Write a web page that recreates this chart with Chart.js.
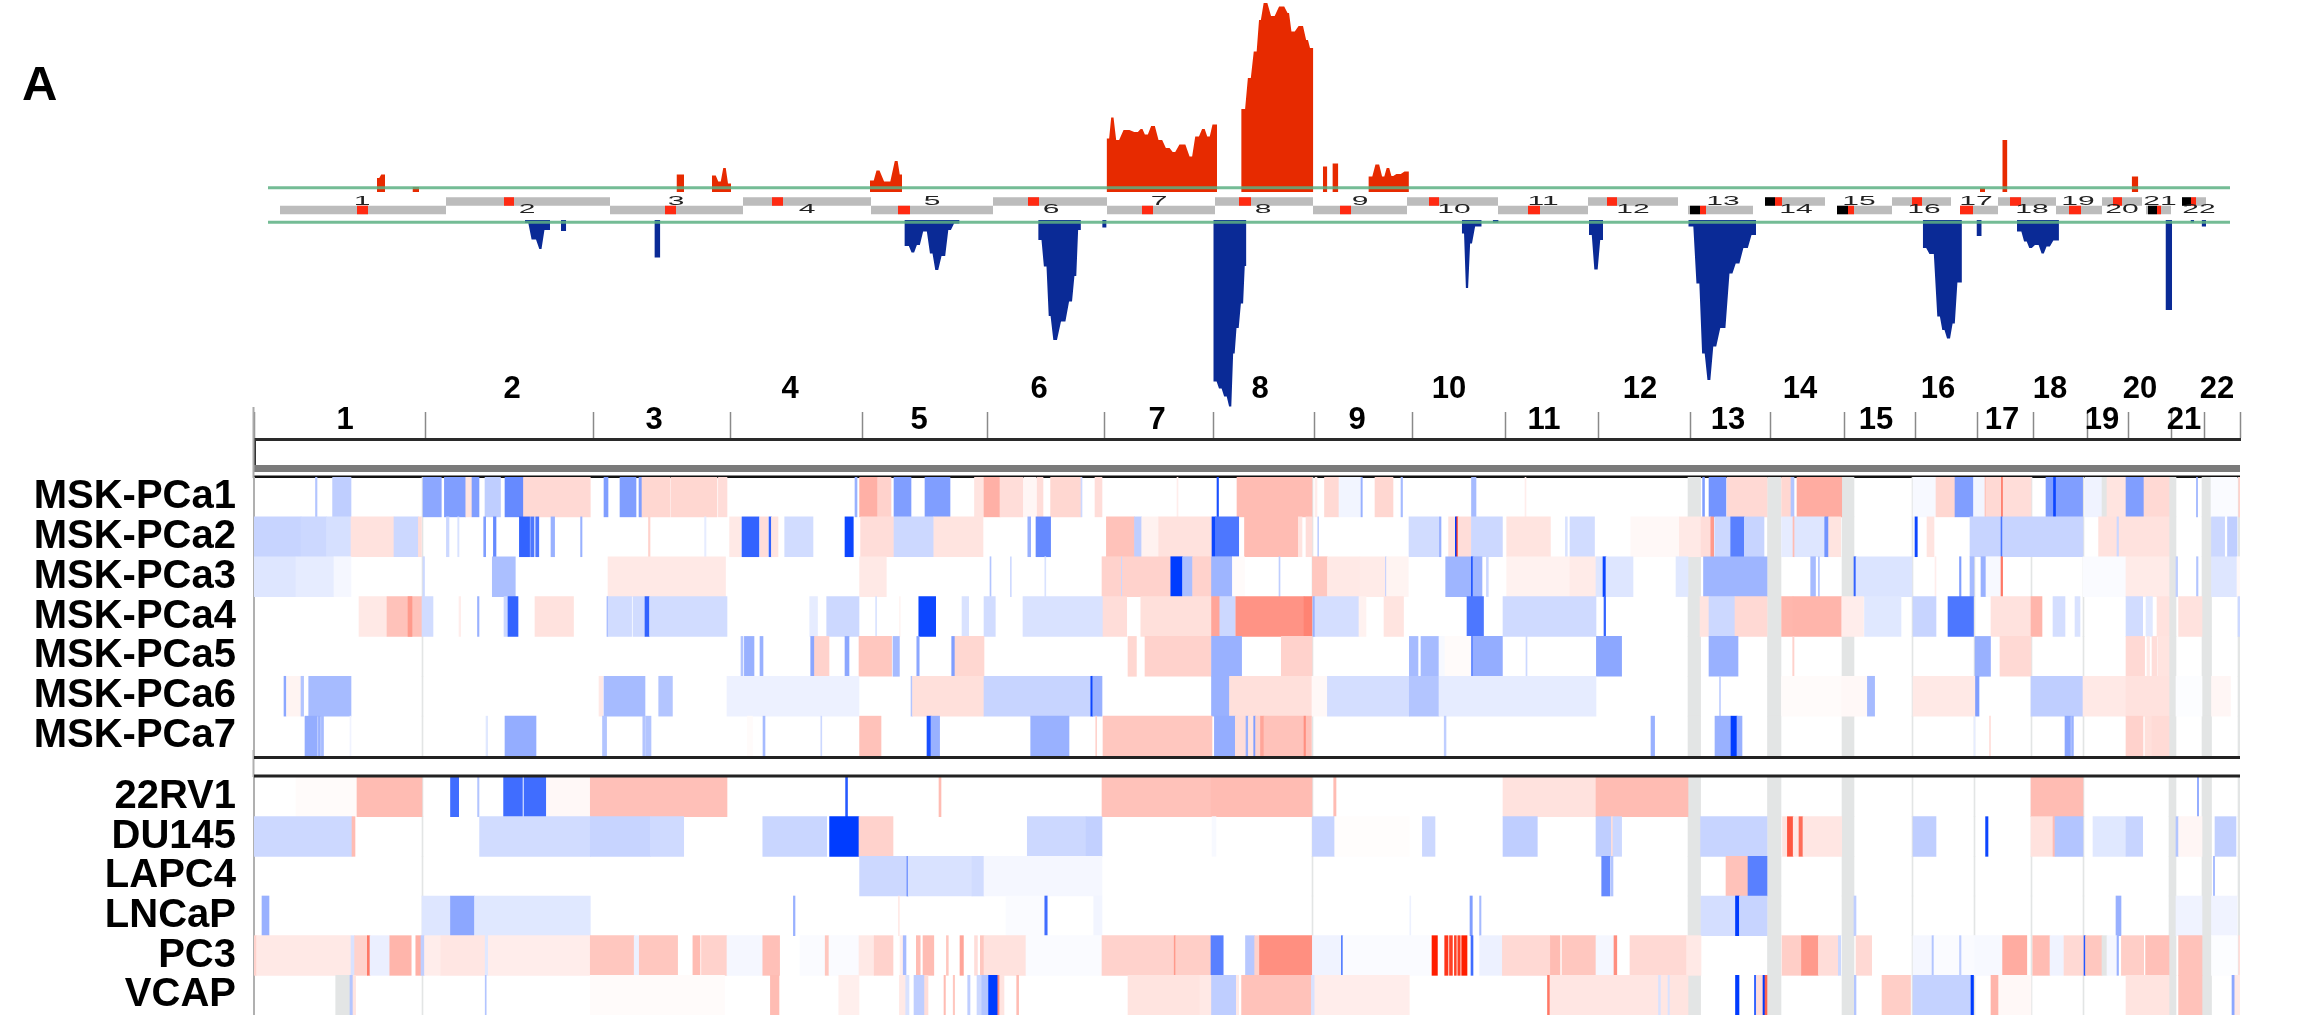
<!DOCTYPE html>
<html>
<head>
<meta charset="utf-8">
<title>Copy number heatmap</title>
<script src="https://cdn.jsdelivr.net/npm/chart.js"></script>
<style>
  html, body { margin: 0; background: #fff; }
  body { width: 2306px; height: 1032px; position: relative; overflow: hidden; }
  canvas { position: absolute; left: 0; filter: blur(0.5px); }
</style>
</head>
<body>
<canvas id="freqChart" width="2306" height="420" style="top:0"></canvas>
<canvas id="rulerChart" width="2306" height="108" style="top:370px"></canvas>
<canvas id="tumorChart" width="2306" height="279" style="top:477px"></canvas>
<canvas id="cellChart" width="2306" height="265" style="top:750px"></canvas>
<script>
// x values are positions along the genome track, chromosomes 1-22 run 254..2240
const chromStarts = [254, 425, 593, 730, 862, 987, 1104, 1213, 1314, 1412, 1505, 1598, 1690, 1770, 1844, 1915, 1977, 2033, 2087, 2128, 2171, 2204, 2240];
const chromNames = ["1", "2", "3", "4", "5", "6", "7", "8", "9", "10", "11", "12", "13", "14", "15", "16", "17", "18", "19", "20", "21", "22"];
const chromLabelPos = [345, 512, 654, 790, 919, 1039, 1157, 1260, 1357, 1449, 1544, 1640, 1728, 1800, 1876, 1938, 2002, 2050, 2102, 2140, 2184, 2217];
const ideoLabelPos = [362, 527, 676, 807, 932, 1051, 1159, 1263, 1360, 1454, 1543, 1633, 1723, 1796, 1859, 1924, 1976, 2032, 2078, 2122, 2160, 2199];

// ideogram: [start, end, centromere start, centromere end, dark start or null]
const ideogram = [
  [280, 446, 357, 368, null], [446, 610, 504, 514, null], [610, 743, 665, 676, null],
  [743, 871, 772, 783, null], [871, 993, 898, 910, null], [993, 1107, 1028, 1039, null],
  [1107, 1215, 1142, 1153, null], [1215, 1313, 1239, 1251, null], [1313, 1407, 1340, 1351, null],
  [1407, 1498, 1429, 1439, null], [1498, 1588, 1528, 1540, null], [1588, 1678, 1607, 1617, null],
  [1688, 1753, 1700, 1706, 1690], [1765, 1825, 1775, 1782, 1765], [1837, 1892, 1848, 1854, 1837],
  [1892, 1951, 1912, 1922, null], [1960, 1998, 1960, 1973, null], [1998, 2056, 2010, 2021, null],
  [2056, 2102, 2069, 2081, null], [2102, 2142, 2113, 2122, null], [2146, 2171, 2157, 2161, 2148],
  [2182, 2206, 2191, 2196, 2182]
];

// frequency of gains and losses: [start, end, percent]
const gainSteps = [
  [377, 380, 7], [380, 385, 8.7], [412.5, 419, 2.5], [676.5, 684, 8.7],
  [712, 717, 8.3], [717, 722, 5.3], [722, 727, 12], [727, 731, 4.2],
  [870, 875, 5.7], [875, 881, 10.7], [881, 893.4, 5.3], [893.4, 899, 15.5], [899, 902, 8.7],
  [1106.6, 1110, 26.7], [1110, 1114.7, 37.3], [1114.7, 1120.6, 26], [1120.6, 1132.4, 31],
  [1132.4, 1139.7, 30], [1139.7, 1143.4, 31.5], [1143.4, 1149.3, 28.7], [1149.3, 1156.7, 33],
  [1156.7, 1164, 26], [1164, 1171.4, 22], [1171.4, 1176.5, 20], [1176.5, 1188.3, 23.7],
  [1188.3, 1193.4, 17.8], [1193.4, 1200.8, 27.8], [1200.8, 1206, 31.5], [1206, 1211, 27.8], [1211, 1217, 33.7],
  [1241.2, 1246.4, 41.5], [1246.4, 1252.3, 57], [1252.3, 1258.1, 70.3], [1258.1, 1261.8, 86],
  [1261.8, 1269.2, 94.5], [1269.2, 1276.5, 88], [1276.5, 1286.8, 92.8], [1286.8, 1289.8, 89.5],
  [1289.8, 1296.4, 80.3], [1296.4, 1305.2, 83], [1305.2, 1308.9, 76], [1308.9, 1313.3, 72],
  [1322.9, 1327.3, 12.8], [1332.4, 1338.3, 14.3],
  [1368.4, 1373.6, 7.8], [1373.6, 1381, 13.7], [1381, 1385.4, 7.8], [1385.4, 1390.5, 12],
  [1390.5, 1394.2, 8], [1394.2, 1403, 9], [1403, 1408.9, 10.3],
  [1980, 1985, 2], [2002.3, 2007.4, 26], [2131.7, 2138.3, 7.8]
];
const lossSteps = [
  [525, 529.4, -1.5], [529.4, 538.2, -9.7], [538.2, 542.6, -14.5], [542.6, 550, -5], [561, 566.2, -5.5],
  [654.4, 660.3, -18.8],
  [904.4, 910.3, -13], [910.3, 915.4, -16.2], [915.4, 921.3, -12.5], [921.3, 928.7, -5.8], [928.7, 933.8, -16.7],
  [933.8, 939.7, -25], [939.7, 947, -18], [947, 952.2, -5], [952.2, 959.6, -1.7],
  [1038.2, 1042.6, -10], [1042.6, 1047.8, -23.3], [1047.8, 1051.5, -48], [1051.5, 1058.8, -60],
  [1058.8, 1067.6, -50.8], [1067.6, 1073.5, -40.8], [1073.5, 1077.2, -28], [1077.2, 1080.9, -5],
  [1102.2, 1106.6, -3.8],
  [1213.3, 1217.7, -80.8], [1217.7, 1222.9, -84.2], [1222.9, 1228, -88.3], [1228, 1232.4, -93.3],
  [1232.4, 1235.4, -66.7], [1235.4, 1239.8, -54], [1239.8, 1244.2, -41.7], [1244.2, 1246.4, -23],
  [1461.8, 1464.8, -6.7], [1464.8, 1469.2, -34], [1469.2, 1472.9, -11.7], [1472.9, 1481.7, -3.3], [1492.7, 1498.6, -1.3],
  [1589, 1592.7, -7.5], [1592.7, 1599.3, -24.7], [1599.3, 1603, -10],
  [1688.3, 1695, -3.3], [1695, 1700.8, -31.7], [1700.8, 1706, -66.7], [1706, 1711.8, -80], [1711.8, 1717.7, -63.3],
  [1717.7, 1728, -54], [1728, 1733.9, -26.7], [1733.9, 1741.2, -21.7], [1741.2, 1750, -14], [1750, 1756, -7.5],
  [1922.8, 1927.3, -14], [1927.3, 1936, -17], [1936, 1941.2, -48.3], [1941.2, 1945.6, -55],
  [1945.6, 1951.5, -59.2], [1951.5, 1955.9, -51.7], [1955.9, 1961.9, -31.3], [1976.5, 1981.7, -8],
  [2017, 2022.8, -5.8], [2022.8, 2028, -10.8], [2028, 2033.1, -14], [2033.1, 2040.5, -12.5],
  [2040.5, 2044.9, -16.7], [2044.9, 2051.5, -13.3], [2051.5, 2058.9, -10.3],
  [2165.5, 2172.1, -45], [2190.5, 2194.2, -1.2], [2201.6, 2206, -3.3]
];
const gainThreshold = 2.15;
const lossThreshold = -1.15;

const tumorNames = ["MSK-PCa1", "MSK-PCa2", "MSK-PCa3", "MSK-PCa4", "MSK-PCa5", "MSK-PCa6", "MSK-PCa7"];
const cellNames = ["22RV1", "DU145", "LAPC4", "LNCaP", "PC3", "VCAP"];

// grey no-data columns and faint chromosome separators
const noDataBands = [[1688, 1700.6], [1767.5, 1781], [1842, 1854], [2169, 2176], [2202, 2211.5]];
const separators = [[422, 423], [1312, 1313], [1912, 1913], [1974, 1975], [2031, 2032], [2083, 2084], [2238, 2240]];

// segments: [start, end, log ratio] (negative blue, positive red, null grey)
const mskPca1 = [
  [315.5, 317, -.3], [332.6, 351, -.25], [423, 441.3, -.45], [444.4, 465.8, -.5], [465.8, 472, .12], [472, 479, -.5],
  [485, 500.5, -.25], [505, 523.5, -.6], [523.5, 590.3, .17], [604, 608, -.5], [620, 636, -.5], [639, 642, -.5],
  [642, 670, .18], [671, 717, .18], [718.4, 727, .15], [855, 857, -.4], [859.6, 877.6, .35], [877.6, 891, .2],
  [894, 911, -.5], [925, 928, -.5], [928, 950, -.5], [974.5, 984, .12], [984, 1000, .35], [1000, 1023, .15],
  [1024, 1036, .04], [1037, 1043, .15], [1050.6, 1081, .18], [1081, 1082, -.2], [1095, 1102, .15], [1177, 1178, .08],
  [1217, 1218.5, -.9], [1237, 1251, .3], [1251, 1312, .3], [1315, 1317, .08], [1324.5, 1339, .17], [1339, 1361, -.05],
  [1361, 1362.3, -.4], [1375, 1393, .18], [1401, 1402.5, -.35], [1471.5, 1476, -.35], [1525, 1526, .08],
  [1702.6, 1704.5, -.5], [1709, 1726, -.55], [1727, 1767, .17], [1781.6, 1791, .18], [1791, 1794, -.3], [1797, 1841.7, .37],
  [1913, 1936, -.03], [1936, 1955, .18], [1955, 1973.5, -.5], [1973.5, 1985, -.05], [1985, 1986, .3], [1986, 2001.6, .17],
  [2001.6, 2003, .7], [2003, 2031, .15], [2046, 2082.6, -.5], [2053.5, 2055.5, -.95], [2085, 2102, -.06], [2102, 2107, null],
  [2107, 2126, .12], [2126, 2144, -.5], [2144, 2169, .17], [2196.5, 2197.5, -.4], [2211, 2237, -.02], [2238.7, 2240, .2]
];
const mskPca2 = [
  [253.6, 301, -.22], [301, 326.5, -.2], [326.5, 351, -.16], [351, 394, .13], [394, 418.4, -.2], [418.4, 421.4, .15],
  [446.4, 449, -.2], [457.7, 459, -.15], [483.7, 485.7, -.5], [493.4, 496, -.6], [519.4, 529.6, -.8], [530.6, 534, -.7],
  [535.7, 538.8, -.7], [551, 554.6, -.4], [580.6, 582, -.4], [648.5, 650, .2], [704.6, 706, -.1], [729.6, 741, .1],
  [742, 759, -.8], [760, 768, .15], [769, 771.4, -.8], [771.4, 778, .12], [784.7, 813, -.18], [845, 853.3, -.95],
  [860.6, 893.6, .15], [894, 933.8, -.2], [933.8, 983, .12], [1027.8, 1030.7, -.4], [1036, 1050.6, -.6],
  [1106.4, 1134.5, .27], [1134.5, 1141.7, -.25], [1141.7, 1158.7, .06], [1158.7, 1212, .13], [1212, 1215.4, -.95],
  [1215.4, 1238.7, -.7], [1244.5, 1298.3, .3], [1298.3, 1302, .12], [1306, 1312, .15], [1317.7, 1318.7, -.25],
  [1409, 1439, -.18], [1439.4, 1441, -.4], [1448.6, 1455.3, .12], [1455.3, 1456.8, -1], [1456.8, 1458, .9], [1458, 1471, .15],
  [1471.4, 1502.4, -.2], [1506.7, 1550.4, .12], [1565.4, 1567.3, -.15], [1570, 1594.5, -.18], [1630.8, 1679.3, .03],
  [1679.3, 1701, .1], [1701, 1710.8, .15], [1710.8, 1713.7, .45], [1714.7, 1730.7, -.2], [1730.7, 1744.3, -.65],
  [1744.3, 1764, -.22], [1781.6, 1793, -.1], [1793, 1794.7, .3], [1794.7, 1824.7, -.13], [1824.7, 1828.6, -.55],
  [1828.6, 1840.7, .12], [1915, 1917.3, -.95], [1927, 1934, .12], [1970, 2001, -.22], [2001, 2002.6, -.7],
  [2002.6, 2083, -.22], [2098.6, 2169, .13], [2117, 2118.5, -.2], [2211.5, 2224.6, -.2], [2227.5, 2237, -.25]
];
const mskPca3 = [
  [253.6, 296, -.13], [296, 334, -.1], [334, 351, -.04], [423, 424.5, -.2], [492.3, 515.3, -.33], [608, 725.5, .1],
  [859.6, 886.3, .1], [990, 991, -.3], [1010.4, 1011.3, -.2], [1044.8, 1045.8, -.15], [1102, 1121.4, .2],
  [1121.4, 1122.4, -.2], [1122.4, 1170.8, .2], [1170.8, 1182.5, -1], [1182.5, 1192.6, -.33], [1192.6, 1211.5, .2],
  [1211.5, 1232.4, -.38], [1232.4, 1244.5, .02], [1279, 1280, -.25], [1312.4, 1327.4, .25], [1327.4, 1359.9, .1],
  [1359.9, 1385.5, .09], [1385.5, 1386.5, -.25], [1386.5, 1408.3, .05], [1445.7, 1471.4, -.38], [1471.4, 1473, -.9],
  [1473, 1482, -.38], [1486.4, 1488.3, -.2], [1506.7, 1570, .06], [1570, 1596, .09], [1596, 1603, -.13], [1603, 1606, -.95],
  [1606, 1633, -.13], [1676, 1688, -.12], [1703.5, 1767, -.38], [1810.7, 1815.5, -.35], [1818.4, 1819.4, -.3],
  [1854, 1856, -.8], [1856, 1912, -.14], [1935, 1936, .08], [1959.5, 1961, -.5], [1970, 1974, -.35], [1981, 1986, -.4],
  [1986, 2000.7, -.03], [2001, 2002.6, .6], [2083, 2126, -.02], [2126, 2169, .09], [2176, 2177.6, -.25], [2196.5, 2198, -.3],
  [2211.5, 2237, -.13], [2237, 2240, .03]
];
const mskPca4 = [
  [359, 387, .1], [387, 422, .27], [408, 412, .45], [422, 433, -.18], [459, 460.7, .08], [477.5, 479, -.4], [504, 508, -.2],
  [508, 518, -.8], [535, 573.5, .13], [607, 608, -.4], [608, 631.6, -.18], [633, 645, -.18], [645, 649.5, -.8],
  [649.5, 727, -.18], [809.7, 817.5, -.1], [826.7, 859, -.2], [875.6, 876.6, -.15], [899.4, 900.3, .05],
  [918.8, 935.7, -.95], [962, 968.7, -.15], [984, 995.3, -.18], [1023, 1103, -.15], [1103, 1126.7, .15], [1140.8, 1211, .14],
  [1211.5, 1219.8, .4], [1219.8, 1235.3, -.2], [1235.8, 1304, .48], [1304, 1312, .55], [1313, 1315, -.4], [1315, 1359, -.17],
  [1359, 1366, .06], [1384, 1403.5, .12], [1467, 1483.5, -.7], [1503, 1596, -.19], [1604, 1605.6, -.8], [1700, 1709, .12],
  [1709, 1735, -.2], [1735, 1767, .17], [1781.6, 1793, .32], [1793, 1841.7, .33], [1841.7, 1863.5, .08], [1864.5, 1901, -.12],
  [1913, 1936, -.22], [1948, 1973.5, -.7], [1991, 2031, .13], [2031, 2042, .33], [2053, 2065, -.17], [2075, 2080, -.15],
  [2126, 2142.7, -.18], [2146, 2152.4, -.12], [2157, 2169, .13], [2178.6, 2202, .13], [2238, 2240, -.2]
];
const mskPca5 = [
  [741, 743, -.3], [744.4, 754, -.4], [760, 763, -.4], [810.7, 814.5, -.45], [814.5, 829, .2], [845, 849, -.45],
  [859, 891.6, .25], [893, 899.4, -.35], [916.8, 919.2, -.45], [951.7, 955, -.5], [955, 984, .18], [1128, 1136.4, .18],
  [1145, 1211, .2], [1211.5, 1241.6, -.4], [1281.3, 1312, .2], [1409.3, 1418, -.35], [1421, 1439, -.35], [1439, 1445, -.03],
  [1445, 1471, .02], [1471.4, 1473.3, -.6], [1473.3, 1502.4, -.42], [1526, 1527, -.2], [1596.4, 1621.6, -.45],
  [1709, 1738, -.4], [1792.7, 1794, .2], [1975, 1990.5, -.4], [2000, 2031, .17], [2126, 2144.6, .17], [2147, 2149.5, .1],
  [2152, 2157, .15], [2158, 2169, .12]
];
const mskPca6 = [
  [284, 286, -.45], [286.7, 301, .05], [301, 303.6, -.3], [308.7, 351, -.35], [599, 603, .1], [604, 645, -.35],
  [658.7, 672.4, -.3], [727, 859, -.07], [911, 912.5, -.3], [912.5, 984, .14], [984, 1090.8, -.22], [1090.8, 1092.8, -.95],
  [1092.8, 1102, -.4], [1211.5, 1229.5, -.4], [1229.5, 1312, .14], [1312, 1327.4, .03], [1327.4, 1409.3, -.17],
  [1409.3, 1439, -.3], [1439, 1596, -.1], [1719.5, 1720.5, -.25], [1781.6, 1841.7, .02], [1841.7, 1867, .03],
  [1867.4, 1874.6, -.35], [1913, 1975.5, .1], [1975.5, 1979, -.5], [2031, 2083, -.25], [2083, 2126, .1], [2126, 2169, .13],
  [2176, 2202, -.01], [2211.5, 2230.4, .04]
];
const mskPca7 = [
  [305, 317.3, -.42], [318.4, 320.4, -.4], [321.4, 323.5, -.35], [350, 351, -.06], [486, 487.7, -.12], [505, 536, -.42],
  [602.5, 606.6, -.3], [642.8, 645.4, -.3], [646, 651, -.3], [747.4, 752.5, .02], [763, 765, -.35], [820.8, 821.8, -.2],
  [859.6, 881, .27], [927, 931, -.9], [931, 939.6, -.4], [1030.7, 1069, -.4], [1095.7, 1096.7, .2], [1103, 1212, .25],
  [1214.4, 1235.3, -.42], [1235.3, 1246, .15], [1246, 1248.4, -.4], [1248.4, 1253.7, .12], [1253.7, 1255.6, -.5],
  [1255.6, 1260.5, .2], [1260.5, 1264, .4], [1264, 1311.4, .27], [1304, 1305.5, .5], [1444.2, 1446, -.25], [1651, 1654.6, -.4],
  [1715, 1731, -.4], [1731, 1737, -1], [1737, 1742, -.4], [1974, 1975, -.1], [1989.5, 1990.5, .15], [2065, 2070.5, -.45],
  [2071.5, 2073.4, -.4], [2126, 2143, .2], [2145, 2152, .14], [2152, 2169, .16]
];
const rv1 = [
  [296, 357, .02], [357, 422, .3], [450.5, 458.7, -.75], [477.6, 479, -.3], [503.6, 522.4, -.75], [524, 546.4, -.75],
  [546.4, 590.3, .03], [590.3, 727, .28], [845.6, 847.5, -.85], [939, 941, .3], [1102, 1211, .27], [1211, 1312, .3],
  [1333.7, 1336, .3], [1503, 1596, .13], [1596, 1688, .3], [2031, 2083, .3], [2197.5, 2198.5, -.5]
];
const du145 = [
  [253.6, 352, -.2], [352, 355, .3], [479.6, 590.3, -.18], [590.3, 650.5, -.22], [650.5, 683.7, -.19], [762.8, 826.7, -.21],
  [829.6, 859, -1], [859, 893, .2], [1027.3, 1086, -.2], [1086, 1102, -.24], [1212, 1216, -.03], [1312.4, 1334.7, -.22],
  [1334.7, 1409.3, .01], [1422.4, 1435, -.2], [1503, 1537.3, -.25], [1596, 1611.4, -.25], [1611.4, 1613, .15], [1613, 1621.6, -.2],
  [1700.6, 1767, -.22], [1782.5, 1787.4, .12], [1787.4, 1793.2, .75], [1793.2, 1799, .1], [1799, 1803, .65], [1803, 1841.7, .11],
  [1913, 1936, -.25], [1985.6, 1988, -.95], [2031, 2053, .13], [2053, 2055, .3], [2055, 2083, -.3], [2093, 2126, -.12],
  [2126, 2142.7, -.22], [2176, 2178.6, -.3], [2178.6, 2202, .04], [2215, 2236, -.24]
];
const lapc4 = [
  [859.6, 907, -.2], [907, 908, -.7], [908, 972, -.15], [972, 984, -.18], [984, 1102, -.04], [1601.7, 1610, -.6],
  [1611, 1613, -.3], [1726, 1748, .27], [1748, 1767, -.65], [2213.5, 2214.5, -.4]
];
const lncap = [
  [262, 269, -.4], [422, 450.5, -.13], [450.5, 474.5, -.45], [474.5, 590.3, -.12], [793.4, 795, -.4], [898.4, 899.4, .1],
  [1006, 1044.8, -.02], [1044.8, 1047.2, -.75], [1093.7, 1102, -.05], [1409.8, 1410.8, -.07], [1470, 1472.3, -.5],
  [1479.6, 1481, -.35], [1701, 1735.5, -.17], [1735.5, 1739.4, -1], [1739.4, 1767, -.22], [1854, 1856, -.25],
  [2116, 2121, -.4], [2176, 2202, -.06], [2211.5, 2237, -.06]
];
const pc3 = [
  [253.6, 256.6, .2], [256.6, 351, .1], [351, 354.6, -.15], [354.6, 367.3, .2], [367.3, 370, .6], [370, 389.8, -.08],
  [389.8, 411.2, .33], [415.8, 421, .35], [421, 424.5, -.25], [424.5, 440.8, .08], [440.8, 485.2, .11], [485.2, 488.3, -.12],
  [488.3, 590.3, .08], [590.3, 634.2, .25], [634.2, 639.3, -.07], [639.3, 677.6, .25], [692.9, 700, .3], [701.5, 727, .2],
  [727, 762.8, -.04], [762.8, 779.6, .28], [800, 825, -.02], [825.2, 829, .25], [829, 859, -.02], [859, 874.2, .1],
  [874.2, 893, .2], [900, 903, .07], [903.2, 906, -.35], [916.3, 920.2, .3], [923, 933.8, .3], [946.4, 948.3, .25],
  [960, 963.4, .4], [974.5, 977.4, .15], [980.3, 984, .25], [984, 1026, .13], [1026, 1102, -.02], [1102, 1174.2, .2],
  [1174.2, 1175.7, .45], [1175.7, 1211, .22], [1211, 1223.2, -.65], [1245.5, 1254.7, -.28], [1254.7, 1259.5, .2],
  [1259.5, 1312, .5], [1312.4, 1341.4, -.06], [1341.4, 1343, -.7], [1343, 1430, -.02], [1432, 1437.4, 1], [1444.7, 1448, .9],
  [1449.5, 1452.4, .85], [1454.4, 1456.3, .85], [1457.8, 1460.2, .85], [1461.7, 1467, 1], [1471, 1473, -.75],
  [1479.6, 1502.4, -.07], [1502.4, 1550.4, .17], [1550.4, 1560, .3], [1562, 1596, .25], [1596, 1614, -.04], [1614, 1616.8, .5],
  [1630, 1686.6, .17], [1686.6, 1701, .1], [1782, 1801.5, .22], [1801.5, 1818.4, .45], [1818.4, 1838.3, .15],
  [1838.3, 1840.7, -.2], [1856, 1871.7, .17], [1913, 1931.4, -.04], [1932, 1934, -.3], [1934, 1975, -.02], [1959.5, 1961, -.25],
  [1975, 2002.6, -.03], [2002.6, 2026.8, .37], [2032.7, 2050, .3], [2050, 2064, -.06], [2064, 2084, .17], [2084, 2085.5, -.85],
  [2085.5, 2102, .25], [2102, 2107, null], [2107, 2117, -.04], [2117, 2118.5, -.4], [2121.4, 2143.7, .22], [2145.6, 2169, .28],
  [2178.6, 2202, .27], [2211.5, 2237, -.01], [2238.7, 2240, .15]
];
const vcap = [
  [335.7, 350, null], [350, 353, -.3], [353, 355.6, .12], [485.2, 486.2, -.3], [590.3, 724.5, .02], [770.4, 779, .3],
  [838.8, 859, .07], [899.4, 905.7, .1], [905.7, 909, -.15], [914, 924.6, -.25], [924.6, 928, .15], [944, 945.4, .3],
  [953.2, 954.6, .25], [967.7, 970, -.25], [977, 981.8, -.2], [981.8, 988.6, -.3], [988.6, 997.8, -1], [997.8, 999.7, .5],
  [999.7, 1004, .12], [1016.7, 1018.6, .3], [1128, 1200, .12], [1200, 1211.5, .1], [1211.5, 1236.3, -.25], [1236.3, 1238.7, .1],
  [1241.6, 1311.4, .27], [1311.4, 1314.8, -.15], [1314.8, 1409.3, .08], [1547.5, 1550.4, .6], [1550, 1658.5, .11],
  [1658.5, 1661, -.15], [1661, 1668, .11], [1668, 1670, -.15], [1670, 1688, .12], [1735.5, 1739, -1], [1754.4, 1756, -.8],
  [1756.4, 1762.7, .15], [1763, 1765, -1], [1765, 1767, .7], [1854.3, 1856, -.3], [1882, 1910.5, .22], [1913, 1971, -.23],
  [1971, 1973.5, -1], [1991, 1998.2, .33], [1999, 2031, .03], [2126, 2169, .12], [2178.6, 2202, .27], [2232, 2234.8, -.45],
  [2234.8, 2240, .1]
];

const trackMin = 254, trackMax = 2240, leftPad = 254, rightPad = 66;
const labelFont = '"Liberation Sans", Arial, sans-serif';
const bandGrey = "#e3e5e5";

function heatColor(v) {
  if (v === null) return bandGrey;
  const t = Math.min(Math.abs(v), 1);
  const to = v > 0 ? [255, 30, 0] : [0, 60, 255];
  const c = to.map(k => Math.round(255 + (k - 255) * t));
  return `rgb(${c[0]},${c[1]},${c[2]})`;
}

// steps to line points, inner edges are slanted a bit, a gap in x breaks the area
function stepPoints(steps) {
  const pts = [];
  steps.forEach((s, i) => {
    const prev = steps[i - 1], next = steps[i + 1];
    const inset = (s[1] - s[0]) * 0.25;
    const joinPrev = prev && prev[1] === s[0];
    const joinNext = next && next[0] === s[1];
    pts.push({ x: joinPrev ? s[0] + inset : s[0], y: s[2] }, { x: joinNext ? s[1] - inset : s[1], y: s[2] });
    if (next && !joinNext) pts.push({ x: s[1], y: null });
  });
  return pts;
}

function spans(list, row) {
  const pts = [];
  list.forEach(s => { pts.push({ x: s[0], y: row }, { x: s[1], y: row }, { x: s[1], y: null }); });
  return pts;
}

const upperIdeo = ideogram.filter((c, i) => i % 2 === 1);
const lowerIdeo = ideogram.filter((c, i) => i % 2 === 0);
const ideoLine = (data, color, order) => ({
  data, borderColor: color, borderWidth: 8.4, borderCapStyle: "butt", pointRadius: 0, yAxisID: "yIdeo", order
});
const thresholdLine = (value, axis) => ({
  data: [{ x: 268, y: value }, { x: 2230, y: value }],
  borderColor: "rgba(92,176,130,0.85)", borderWidth: 3, pointRadius: 0, yAxisID: axis, order: 0
});
const centromere = list => list.map(c => [c[2], c[3]]);
const darkPart = list => list.filter(c => c[4] !== null).map(c => [c[4], c[2]]);

const freqLabels = {
  id: "freqLabels",
  afterDraw(chart) {
    const { ctx, scales } = chart;
    ctx.save();
    ctx.fillStyle = "#000";
    ctx.font = "bold 49px " + labelFont;
    ctx.textBaseline = "alphabetic";
    ctx.textAlign = "left";
    ctx.fillText("A", 22, 100);
    ctx.fillStyle = "#222";
    ctx.font = "12px " + labelFont;
    ctx.textAlign = "center";
    ctx.textBaseline = "middle";
    chromNames.forEach((name, i) => {
      const px = scales.x.getPixelForValue(ideoLabelPos[i]);
      const py = scales.yIdeo.getPixelForValue(i % 2 === 0 ? 1 : 0);
      ctx.save();
      ctx.translate(px, py);
      ctx.scale(2.5, 1);
      ctx.fillText(name, 0, 0);
      ctx.restore();
    });
    ctx.restore();
  }
};

new Chart(document.getElementById("freqChart"), {
  type: "line",
  data: {
    datasets: [
      thresholdLine(gainThreshold, "yGain"),
      thresholdLine(lossThreshold, "yLoss"),
      ideoLine(spans(darkPart(upperIdeo), 1).concat(spans(darkPart(lowerIdeo), 0)), "#000", 1),
      ideoLine(spans(centromere(upperIdeo), 1).concat(spans(centromere(lowerIdeo), 0)), "#ff2a12", 2),
      ideoLine(spans(upperIdeo, 1).concat(spans(lowerIdeo, 0)), "#bcbcbc", 3),
      { data: stepPoints(gainSteps), borderWidth: 0, backgroundColor: "#e72a00", fill: "origin", pointRadius: 0, yAxisID: "yGain", order: 4 },
      { data: stepPoints(lossSteps), borderWidth: 0, backgroundColor: "#0a2a96", fill: "origin", pointRadius: 0, yAxisID: "yLoss", order: 4 }
    ]
  },
  options: {
    responsive: false,
    animation: false,
    layout: { padding: { left: leftPad, right: rightPad } },
    plugins: { legend: { display: false }, tooltip: { enabled: false } },
    scales: {
      x: { type: "linear", min: trackMin, max: trackMax, display: false },
      yGain: { type: "linear", min: -114, max: 96, display: false },
      yLoss: { type: "linear", min: -100, max: 110, display: false },
      yIdeo: { type: "linear", min: -24.7, max: 24.7, display: false }
    }
  },
  plugins: [freqLabels]
});

const rulerDecor = {
  id: "rulerDecor",
  afterDraw(chart) {
    const { ctx, chartArea: a, scales } = chart;
    ctx.save();
    ctx.fillStyle = "#7a7a7a";
    ctx.fillRect(a.left, a.top + 26, a.right - a.left, 7);
    ctx.fillStyle = "#111";
    ctx.fillRect(a.left, a.bottom - 2.5, a.right - a.left, 2.5);
    ctx.fillStyle = "#333";
    ctx.fillRect(a.left, a.top, 2, 26);
    ctx.fillStyle = "#aaa";
    ctx.fillRect(a.left - 1.5, a.top - 32, 2, a.bottom - a.top + 32);
    ctx.fillStyle = "#000";
    ctx.font = "bold 31px " + labelFont;
    ctx.textAlign = "center";
    ctx.textBaseline = "middle";
    chromNames.forEach((name, i) => {
      const row = i % 2 === 0 ? a.top - 19 : a.top - 50;
      ctx.fillText(name, scales.x.getPixelForValue(chromLabelPos[i]), row);
    });
    ctx.restore();
  }
};

new Chart(document.getElementById("rulerChart"), {
  type: "line",
  data: { datasets: [{ data: [] }] },
  options: {
    responsive: false,
    animation: false,
    layout: { padding: { left: leftPad, right: rightPad } },
    plugins: { legend: { display: false }, tooltip: { enabled: false } },
    scales: {
      x: {
        type: "linear",
        position: "top",
        min: trackMin,
        max: trackMax,
        afterBuildTicks: scale => { scale.ticks = chromStarts.map(v => ({ value: v })); },
        afterFit: scale => { scale.height = 69; },
        ticks: { display: false },
        grid: { drawOnChartArea: false, tickLength: 27, tickColor: "#8a8a8a", tickWidth: 1.5 },
        border: { color: "#2a2a2a", width: 3 }
      },
      y: { display: false, min: 0, max: 1 }
    }
  },
  plugins: [rulerDecor]
});

function heatChart(id, names, rows, topPad, plugins) {
  const segments = [];
  rows.forEach((row, i) => row.forEach(s => segments.push({ x: [s[0], s[1]], y: names[i], v: s[2] })));
  const bands = [];
  names.forEach(name => {
    noDataBands.forEach(b => bands.push({ x: [b[0], b[1]], y: name }));
    separators.forEach(b => bands.push({ x: [b[0], b[1]], y: name }));
  });
  return new Chart(document.getElementById(id), {
    type: "bar",
    data: {
      labels: names,
      datasets: [
        { data: segments, backgroundColor: c => heatColor(c.raw.v), grouped: false, barPercentage: 1, categoryPercentage: 1, borderWidth: 0 },
        { data: bands, backgroundColor: bandGrey, grouped: false, barPercentage: 1, categoryPercentage: 1, borderWidth: 0 }
      ]
    },
    options: {
      indexAxis: "y",
      responsive: false,
      animation: false,
      layout: { padding: { right: rightPad, top: topPad } },
      plugins: { legend: { display: false }, tooltip: { enabled: false } },
      scales: {
        x: { type: "linear", min: trackMin, max: trackMax, display: false },
        y: {
          type: "category",
          // the big labels must not pull the rows away from the panel edges
          afterFit: scale => { scale.width = leftPad; scale.paddingTop = 0; scale.paddingBottom = 0; },
          grid: { display: false },
          border: { color: "#b0b0b0", width: 2 },
          ticks: { autoSkip: false, color: "#000", font: { family: labelFont, size: 40, weight: "bold" }, padding: 10 }
        }
      }
    },
    plugins
  });
}

const panelGap = {
  id: "panelGap",
  afterDraw(chart) {
    const { ctx, chartArea: a } = chart;
    ctx.save();
    ctx.fillStyle = "#b0b0b0";
    ctx.fillRect(a.left - 1.5, 0, 2, a.top);
    ctx.fillStyle = "#222";
    ctx.fillRect(a.left, a.top - 2.5, a.right - a.left, 3);
    ctx.fillRect(a.left, a.top - 21, a.right - a.left, 3);
    ctx.restore();
  }
};

heatChart("tumorChart", tumorNames, [mskPca1, mskPca2, mskPca3, mskPca4, mskPca5, mskPca6, mskPca7], 0, []);
heatChart("cellChart", cellNames, [rv1, du145, lapc4, lncap, pc3, vcap], 27, [panelGap]);
</script>
</body>
</html>
